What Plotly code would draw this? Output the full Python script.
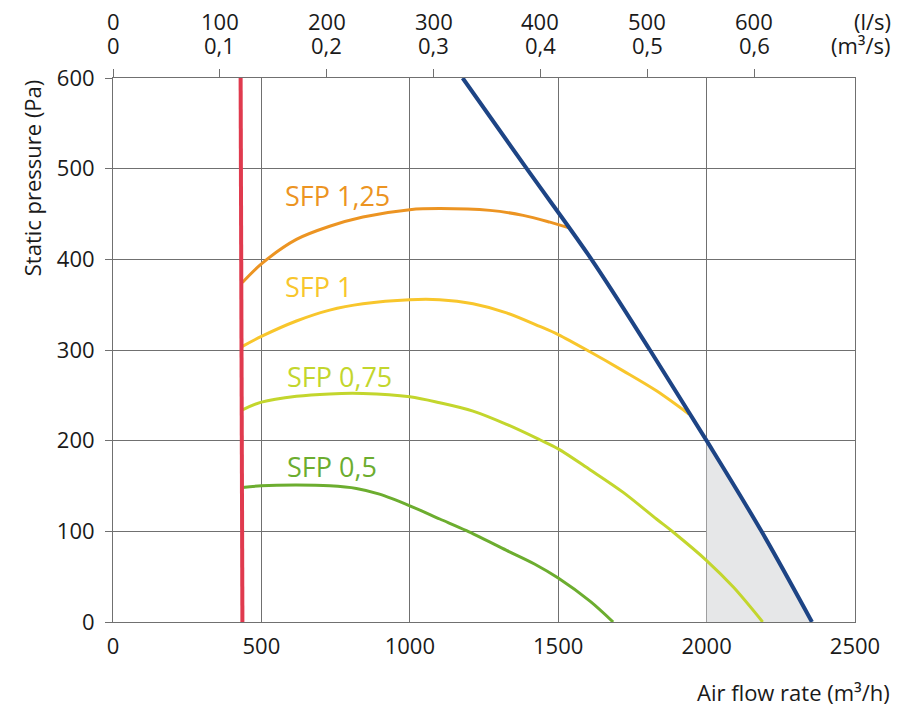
import plotly.graph_objects as go

# Air flow (m3/h) and static pressure (Pa)
red_x = [436, 430]
red_y = [0, 600]

blue_x = [1178, 1394, 1612, 1809, 2000, 2185, 2355]
blue_y = [600, 500, 400, 300, 200, 100, 0]

sfp125_x = [436, 500, 618, 730, 842, 1000, 1100, 1270, 1382, 1472, 1534]
sfp125_y = [374.5, 395, 422, 436.5, 446.7, 454.8, 456, 454, 448.5, 441, 435]

sfp1_x = [436, 500, 618, 730, 842, 1000, 1100, 1213, 1326, 1438, 1500, 1607, 1719, 1831, 1940]
sfp1_y = [304, 315, 332, 344, 351, 355.5, 355.5, 351, 341, 326, 317, 298, 277, 255, 229.5]

sfp075_x = [436, 500, 618, 730, 842, 1000, 1101, 1213, 1326, 1438, 1500, 1607, 1719, 1831,
            1888, 2000, 2090, 2189]
sfp075_y = [234, 242.5, 249, 251.6, 252, 248.4, 241.8, 232.6, 218, 201, 191, 168, 143,
            113.6, 99, 67.8, 38.5, 0]

sfp05_x = [436, 500, 618, 730, 820, 898, 1000, 1101, 1191, 1326, 1420, 1500, 1607, 1685]
sfp05_y = [148.4, 150.2, 151, 150.2, 147.3, 141, 128.2, 113.6, 100.7, 79, 64, 48.5, 23, 0]

sfp_labels = ["SFP 1,25", "SFP 1", "SFP 0,75", "SFP 0,5"]
label_x = [573, 573, 578, 578]
label_y = [470, 370, 271, 172]

x_ticks = [0, 500, 1000, 1500, 2000, 2500]
y_ticks = [0, 100, 200, 300, 400, 500, 600]
ls_ticks = [0, 100, 200, 300, 400, 500, 600]
m3s_text = ["0", "0,1", "0,2", "0,3", "0,4", "0,5", "0,6"]

FONT = "Open Sans"
TXT = "#1a1a1a"
GRID = "#707070"
colors = ["#ec9422", "#f8c62c", "#c3d62d", "#6cad2f"]

fig = go.Figure()

# shaded area under the blue limit line, right of 2000 m3/h
i0 = blue_x.index(2000)
fig.add_trace(go.Scatter(
    x=blue_x[i0:] + [blue_x[i0]], y=blue_y[i0:] + [0],
    fill="toself", fillcolor="#e6e7e8", line=dict(width=0),
    mode="lines", showlegend=False, hoverinfo="skip"))

series = [(sfp125_x, sfp125_y), (sfp1_x, sfp1_y), (sfp075_x, sfp075_y), (sfp05_x, sfp05_y)]
for (xs, ys), c, name in zip(series, colors, sfp_labels):
    fig.add_trace(go.Scatter(x=xs, y=ys, mode="lines", name=name,
                             line=dict(color=c, width=3, shape="spline", smoothing=0.9),
                             showlegend=False))

fig.add_trace(go.Scatter(x=blue_x, y=blue_y, mode="lines",
                         line=dict(color="#1d4485", width=4, shape="spline", smoothing=1),
                         showlegend=False))
fig.add_trace(go.Scatter(x=red_x, y=red_y, mode="lines",
                         line=dict(color="#e03a4e", width=4), showlegend=False))

# dummy trace so the top (l/s) axis is drawn
fig.add_trace(go.Scatter(x=ls_ticks, y=[None] * len(ls_ticks), xaxis="x2",
                         showlegend=False, hoverinfo="skip"))

for name, xv, yv, c in zip(sfp_labels, label_x, label_y, colors):
    fig.add_annotation(x=xv, y=yv, text=name, showarrow=False, xanchor="left",
                       yanchor="middle", font=dict(family=FONT, size=27, color=c))

# top tick labels: two rows
top_font = dict(family=FONT, size=22, color=TXT)
for v, t in zip(ls_ticks, m3s_text):
    fig.add_annotation(x=v, xref="x2", y=1, yref="paper", text=str(v), showarrow=False,
                       yanchor="middle", yshift=57, borderpad=0, font=top_font)
    fig.add_annotation(x=v, xref="x2", y=1, yref="paper", text=t, showarrow=False,
                       yanchor="middle", yshift=33, borderpad=0, font=top_font)
fig.add_annotation(x=1.05, xref="paper", y=1, yref="paper", text="(l/s)", showarrow=False,
                   xanchor="right", yanchor="middle", yshift=57, borderpad=0,
                   font=top_font)
fig.add_annotation(x=1.05, xref="paper", y=1, yref="paper", text="(m³/s)",
                   showarrow=False, xanchor="right", yanchor="middle", yshift=33,
                   borderpad=0, font=top_font)

fig.add_annotation(x=-0.109, xref="paper", y=0.816, yref="paper", text="Static pressure (Pa)",
                   textangle=-90, showarrow=False, xanchor="center", yanchor="middle",
                   font=dict(family=FONT, size=22, color=TXT))
fig.add_annotation(x=1.05, xref="paper", y=-0.129, yref="paper",
                   text="Air flow rate (m³/h)", showarrow=False,
                   xanchor="right", yanchor="middle", font=dict(family=FONT, size=22, color=TXT))

# short ticks under the box corners
for xv in [x_ticks[0], x_ticks[-1]]:
    fig.add_shape(type="line", xref="x", yref="y", x0=xv, x1=xv, y0=0, y1=-7,
                  ysizemode="pixel", yanchor=0, line=dict(color=GRID, width=1))

fig.update_layout(
    width=893, height=700,
    margin=dict(l=105, r=46, t=70, b=86),
    paper_bgcolor="white", plot_bgcolor="white",
    font=dict(family=FONT, size=22, color=TXT),
    xaxis=dict(range=[0, 2500], tickvals=x_ticks, showgrid=True, gridcolor=GRID,
               gridwidth=1, showline=True, linecolor=GRID, linewidth=1, mirror=True,
               zeroline=False, ticks="", ticklabelstandoff=5,
               tickfont=dict(family=FONT, size=22, color=TXT)),
    xaxis2=dict(range=[0, 2500 / 3.6], overlaying="x", side="top", tickvals=ls_ticks,
                showticklabels=False, ticks="outside", ticklen=8, tickcolor=GRID,
                showgrid=False, zeroline=False, showline=False),
    yaxis=dict(range=[0, 600], tickvals=y_ticks, showgrid=True, gridcolor=GRID,
               gridwidth=1, showline=True, linecolor=GRID, linewidth=1, mirror=True,
               zeroline=False, ticks="outside", ticklen=7, tickcolor=GRID,
               ticklabelstandoff=6, tickfont=dict(family=FONT, size=22, color=TXT)),
)

fig.write_html("out.html")
